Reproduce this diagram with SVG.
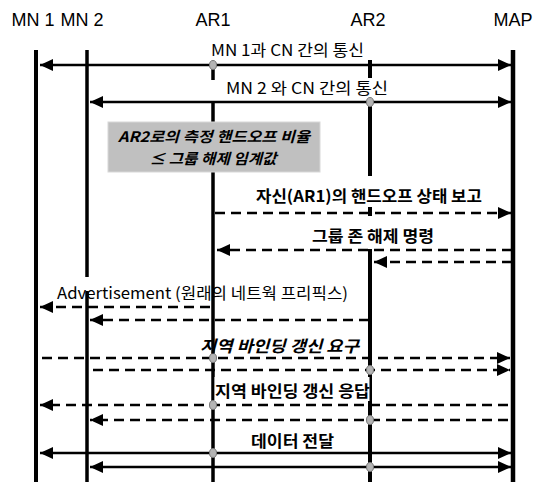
<svg xmlns="http://www.w3.org/2000/svg" width="543" height="482" viewBox="0 0 543 482">
<style>
.hdr{font-family:"Liberation Sans","DejaVu Sans",sans-serif;font-size:18px;fill:#000;text-anchor:middle}
.lbl{font-family:"Noto Sans CJK KR","DejaVu Sans",sans-serif;font-size:16px;font-weight:bold;fill:#000}
.lbn{font-family:"Noto Sans CJK KR","DejaVu Sans",sans-serif;font-size:16px;font-weight:normal;fill:#000}
.nt{font-family:"Noto Sans CJK KR","DejaVu Sans",sans-serif;font-size:14.5px;font-weight:bold;font-style:italic;fill:#000;text-anchor:middle}
.life{stroke:#000;fill:none}
.msg{stroke:#000;stroke-width:2.5;fill:none}
.dash{stroke-dasharray:10 6}
.dot{fill:#b4b4b4;stroke:#777;stroke-width:1}
</style>
<defs>
<marker id="ah" markerUnits="userSpaceOnUse" markerWidth="14" markerHeight="14" refX="13" refY="6" orient="auto-start-reverse">
<path d="M0,0 L13,6 L0,12 z" fill="#000"/>
</marker>
</defs>
<rect width="543" height="482" fill="#fff"/>
<g id="MN1">
<text class="hdr" x="33" y="26">MN 1</text>
<line class="life" x1="36" y1="50" x2="36" y2="482" stroke-width="4"/>
</g>
<g id="MN2">
<text class="hdr" x="82" y="26">MN 2</text>
<line class="life" x1="87" y1="50" x2="87" y2="277" stroke-width="3.5"/>
<line class="life" x1="87" y1="291" x2="87" y2="482" stroke-width="3.5"/>
</g>
<g id="AR1">
<text class="hdr" x="213" y="26">AR1</text>
<line class="life" x1="213" y1="68" x2="213" y2="80" stroke-width="3.5"/>
<line class="life" x1="213" y1="102" x2="213" y2="482" stroke-width="3.5"/>
</g>
<g id="AR2">
<text class="hdr" x="368" y="26">AR2</text>
<line class="life" x1="370" y1="60" x2="370" y2="78" stroke-width="4"/>
<line class="life" x1="370" y1="100" x2="370" y2="176" stroke-width="4"/>
<line class="life" x1="370" y1="207" x2="370" y2="216" stroke-width="4"/>
<line class="life" x1="370" y1="249" x2="370" y2="482" stroke-width="4"/>
</g>
<g id="MAP">
<text class="hdr" x="513" y="26">MAP</text>
<line class="life" x1="513" y1="50" x2="513" y2="482" stroke-width="4.5"/>
</g>
<g id="note">
<rect x="108" y="122" width="212" height="50" fill="#c0c0c0" stroke="#d8d8d8" stroke-width="1"/>
<text class="nt" x="214" y="142" textLength="192" lengthAdjust="spacingAndGlyphs">AR2로의 측정 핸드오프 비율</text>
<text class="nt" x="213" y="164" textLength="127" lengthAdjust="spacingAndGlyphs">≤ 그룹 해제 임계값</text>
</g>
<g id="connectors">
<line class="msg" x1="40" y1="65" x2="511" y2="65" marker-start="url(#ah)" marker-end="url(#ah)"/>
<line class="msg" x1="90" y1="102" x2="511" y2="102" marker-start="url(#ah)" marker-end="url(#ah)"/>
<line class="msg dash" x1="215" y1="213" x2="511" y2="213" marker-end="url(#ah)"/>
<line class="msg dash" x1="512" y1="250" x2="217" y2="250" marker-end="url(#ah)"/>
<line class="msg dash" x1="512" y1="262" x2="374" y2="262" marker-end="url(#ah)"/>
<line class="msg dash" x1="210" y1="307" x2="40" y2="307" marker-end="url(#ah)"/>
<line class="msg dash" x1="369" y1="320" x2="90" y2="320" marker-end="url(#ah)"/>
<line class="msg dash" x1="42" y1="358" x2="510" y2="358" marker-end="url(#ah)"/>
<line class="msg dash" x1="93" y1="370" x2="510" y2="370" marker-end="url(#ah)"/>
<line class="msg dash" x1="508" y1="405" x2="40" y2="405" marker-end="url(#ah)"/>
<line class="msg dash" x1="508" y1="420" x2="90" y2="420" marker-end="url(#ah)"/>
<line class="msg" x1="40" y1="453" x2="511" y2="453" marker-start="url(#ah)" marker-end="url(#ah)"/>
<line class="msg" x1="90" y1="467" x2="511" y2="467" marker-start="url(#ah)" marker-end="url(#ah)"/>
<ellipse class="dot" cx="213" cy="65" rx="3.5" ry="4.5"/>
<ellipse class="dot" cx="370" cy="102" rx="3.5" ry="4.5"/>
<ellipse class="dot" cx="213" cy="358" rx="3.5" ry="4.5"/>
<ellipse class="dot" cx="370" cy="370" rx="3.5" ry="4.5"/>
<ellipse class="dot" cx="213" cy="405" rx="3.5" ry="4.5"/>
<ellipse class="dot" cx="370" cy="420" rx="3.5" ry="4.5"/>
<ellipse class="dot" cx="213" cy="453" rx="3.5" ry="4.5"/>
<ellipse class="dot" cx="370" cy="467" rx="3.5" ry="4.5"/>
</g>
<g id="labels">
<text class="lbn" x="211" y="56" textLength="153" lengthAdjust="spacingAndGlyphs">MN 1과 CN 간의 통신</text>
<text class="lbn" x="226" y="94" textLength="162" lengthAdjust="spacingAndGlyphs">MN 2 와 CN 간의 통신</text>
<text class="lbl" x="256" y="202" textLength="226" lengthAdjust="spacingAndGlyphs">자신(AR1)의 핸드오프 상태 보고</text>
<text class="lbl" x="312" y="242" textLength="122" lengthAdjust="spacingAndGlyphs">그룹 존 해제 명령</text>
<text class="lbn" x="57" y="299" textLength="291" lengthAdjust="spacingAndGlyphs">Advertisement (원래의 네트웍 프리픽스)</text>
<text class="lbl" x="200" y="352" font-style="italic" textLength="159" lengthAdjust="spacingAndGlyphs">지역 바인딩 갱신 요구</text>
<rect x="214.5" y="377" width="155" height="24" fill="#fff"/>
<text class="lbl" x="215" y="397" textLength="155" lengthAdjust="spacingAndGlyphs">지역 바인딩 갱신 응답</text>
<text class="lbl" x="251" y="447" textLength="83" lengthAdjust="spacingAndGlyphs">데이터 전달</text>
</g>
</svg>
